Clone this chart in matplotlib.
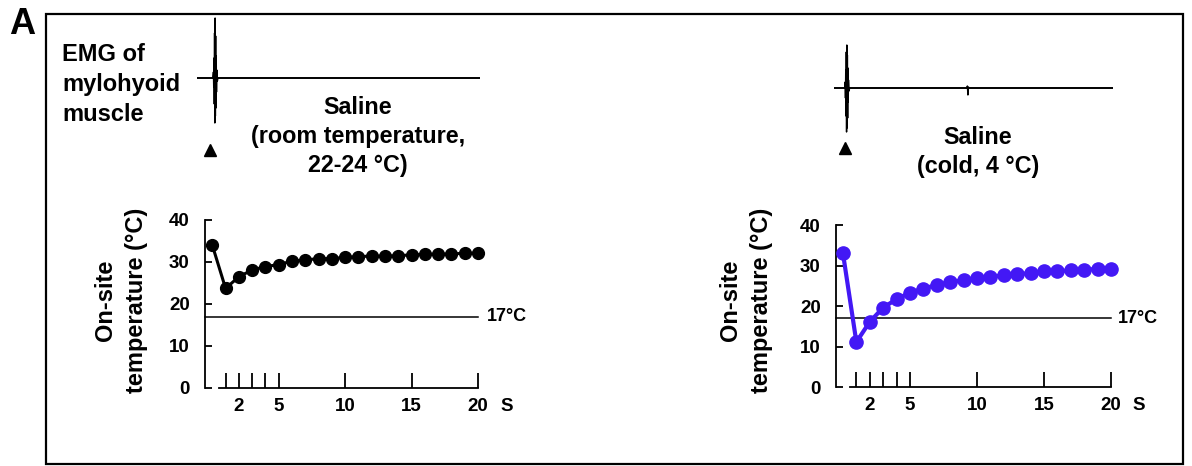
import matplotlib.pyplot as plt
from matplotlib.patches import Rectangle
from matplotlib.transforms import offset_copy

plt.rcParams['font.family'] = ['Liberation Sans', 'DejaVu Sans']
plt.rcParams['font.weight'] = 'bold'

# temperature readings, one per second
seconds = list(range(0, 21))
temp_room = [34.0, 23.7, 26.5, 28.1, 28.9, 29.4, 30.2, 30.5, 30.8, 30.8, 31.1,
             31.3, 31.4, 31.4, 31.5, 31.7, 31.8, 31.9, 31.9, 32.1, 32.1]
temp_cold = [33.0, 11.1, 16.1, 19.6, 21.7, 23.3, 24.3, 25.2, 25.9, 26.4, 26.8,
             27.2, 27.6, 27.9, 28.1, 28.6, 28.6, 28.8, 28.9, 29.2, 29.2]
threshold = 17

xticks = [1, 2, 3, 4, 5, 10, 15, 20]
xtick_labels = ['', '2', '', '', '5', '10', '15', '20']
yticks = [0, 10, 20, 30, 40]

# EMG traces (arbitrary time / amplitude units)
emg_room_t = [0, 56, 58, 59, 60, 61, 62, 63, 64, 65, 66, 67, 68, 69, 70, 72, 74, 1000]
emg_room_v = [0, 0, 6, -9, 20, -26, 45, -45, 60, -38, 42, -30, 22, -14, 8, -3, 0, 0]
emg_cold_t = [0, 38, 40, 41, 42, 43, 44, 45, 46, 47, 48, 49, 50, 51, 52, 54, 56,
              476, 478, 480, 482, 484, 1000]
emg_cold_v = [0, 0, 6, -10, 18, -28, 36, -44, 43, -40, 33, -30, 20, -14, 8, -3, 0,
              0, 2, -7, 1, 0, 0]

W, H = 1192, 466
fig = plt.figure(figsize=(W / 100, H / 100), dpi=100)


def px_axes(left, top, right, bottom):
    return fig.add_axes([left / W, 1 - bottom / H, (right - left) / W, (bottom - top) / H])


# overlay for frame, panel letter and labels
ov = px_axes(0, 0, W, H)
ov.set_xlim(0, W)
ov.set_ylim(H, 0)
ov.axis('off')
ov.add_patch(Rectangle((46, 14), 1137, 450, fill=False, lw=1.6, ec='black'))
ov.text(9, 34, 'A', fontsize=26, fontweight='bold', va='baseline')
ov.text(62, 43, 'EMG of\nmylohyoid\nmuscle', fontsize=17, va='top', ha='left',
        linespacing=1.38)
ov.text(358, 96, 'Saline\n(room temperature,\n22-24 \u00b0C)', fontsize=16.8,
        va='top', ha='center', linespacing=1.32)
ov.text(978, 126, 'Saline\n(cold, 4 \u00b0C)', fontsize=16.8, va='top', ha='center',
        linespacing=1.32)
ov.plot([210, 845], [150, 148], ls='none', marker='^', ms=8, color='black')


def emg(ax, t, v, ylo, yhi):
    ax.plot(t, v, color='black', lw=1.0)
    ax.plot([t[0], t[-1]], [0, 0], color='black', lw=1.3)
    ax.set_xlim(t[0], t[-1])
    ax.set_ylim(ylo, yhi)
    ax.axis('off')


emg(px_axes(197, 15, 480, 128), emg_room_t, emg_room_v, -50, 63)
emg(px_axes(834, 42, 1113, 135), emg_cold_t, emg_cold_v, -47, 46)


def temp_panel(ax, y, color, lw, ms, lab_x, lab_y, lab17_x, s_x):
    ax.plot(seconds, y, color=color, lw=lw, marker='o', ms=ms, clip_on=False, zorder=3)
    ax.plot([ax.get_xlim()[0], 20], [threshold, threshold], color='black', lw=1.1,
            clip_on=False)
    ax.set_ylim(0, 40)
    for s in ['top', 'right']:
        ax.spines[s].set_visible(False)
    ax.spines['left'].set_linewidth(1.3)
    ax.spines['bottom'].set_linewidth(1.3)
    ax.spines['bottom'].set_bounds(0.5, 20)
    ax.set_xticks(xticks)
    ax.set_xticklabels(xtick_labels)
    ax.set_yticks(yticks)
    ax.tick_params(axis='x', direction='in', length=11, width=1.3, pad=7, labelsize=13.5)
    ax.tick_params(axis='y', direction='in', length=5, width=1.3, pad=11, labelsize=13.5)
    for lab in ax.get_xticklabels() + ax.get_yticklabels():
        lab.set_fontweight('bold')
    ax.set_ylabel('On-site\ntemperature (\u00b0C)', fontsize=17, fontweight='bold',
                  linespacing=1.45)
    ax.yaxis.set_label_coords(lab_x, lab_y)
    ax.text(lab17_x, threshold, '17\u00b0C', fontsize=13, va='center', ha='left')
    ax.text(s_x, 0, 'S', fontsize=13.5, va='top', ha='left',
            transform=offset_copy(ax.transData, fig=fig, y=-7, units='points'))
    ax.patch.set_alpha(0)


ax1 = px_axes(205, 220, 478, 388)
ax1.set_xlim(-0.55, 20)
temp_panel(ax1, temp_room, 'black', 2.2, 8.5, -0.21, 0.524, 20.65, 21.7)

ax2 = px_axes(836, 225, 1111, 387)
ax2.set_xlim(-0.52, 20)
temp_panel(ax2, temp_cold, '#4318f5', 3.0, 9.5, -0.23, 0.537, 20.5, 21.6)

fig.savefig('out.png', dpi=100)
